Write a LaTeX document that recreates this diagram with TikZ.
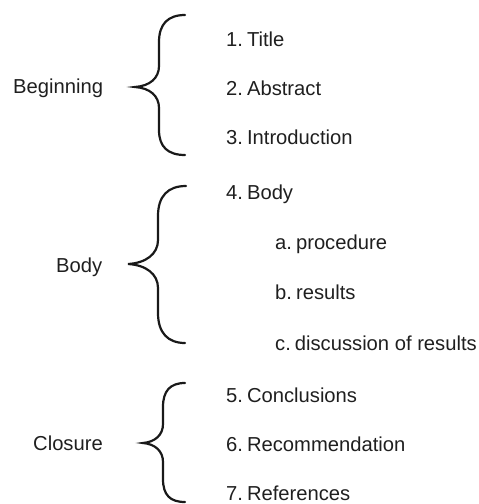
\documentclass[tikz,border=0pt]{standalone}
\usepackage{fontspec}
\setmainfont{Liberation Sans}
\begin{document}
\begin{tikzpicture}[x=1pt,y=-1pt,
  brace line/.style={draw=black!90, line width=2.2pt, line cap=round, line join=miter},
  label/.style={anchor=base west, inner sep=0pt, text=black!88,
    font=\fontsize{20.2}{24}\selectfont},
  item/.style={label}]
\useasboundingbox (0,0) rectangle (479,504);

% group labels
\node[label] (beg) at (13,93) {Beginning};
\node[label] (bod) at (56,272) {Body};
\node[label] (clo) at (33,450) {Closure};

% list entries (tight gap after the enumerator)
\node[item] (i1) at (226,46) {1.\kern4pt Title};
\node[item] (i2) at (226,95) {2.\kern4pt Abstract};
\node[item] (i3) at (226,144) {3.\kern4pt Introduction};
\node[item] (i4) at (226,199) {4.\kern4pt Body};
\node[item] (ia) at (275,249) {a.\kern4pt procedure};
\node[item] (ib) at (275,299) {b.\kern4pt results};
\node[item] (ic) at (275,350) {c.\kern4pt discussion of results};
\node[item] (i5) at (226,402) {5.\kern4pt Conclusions};
\node[item] (i6) at (226,451) {6.\kern4pt Recommendation};
\node[item] (i7) at (226,500) {7.\kern4pt References};

% curly braces
\draw[brace line] (185,15) .. controls (168,15) and (159,24) .. (159,42)
  -- (159,66) .. controls (159,78) and (150,86) .. (135,87)
  .. controls (150,88) and (159,96) .. (159,108)
  -- (159,130) .. controls (159,147) and (168,155) .. (185,155);

\draw[brace line] (186,186) .. controls (168,186) and (158,196) .. (158,216)
  -- (158,240) .. controls (158,254) and (146,263) .. (128,264)
  .. controls (146,265) and (158,274) .. (158,288)
  -- (158,313) .. controls (158,333) and (168,343) .. (185,343);

\draw[brace line] (185,383) .. controls (170,383) and (163,391) .. (163,407)
  -- (163,424) .. controls (163,435) and (155,442) .. (143,443)
  .. controls (155,444) and (163,451) .. (163,462)
  -- (163,479) .. controls (163,495) and (170,502) .. (185,502);
\end{tikzpicture}
\end{document}
